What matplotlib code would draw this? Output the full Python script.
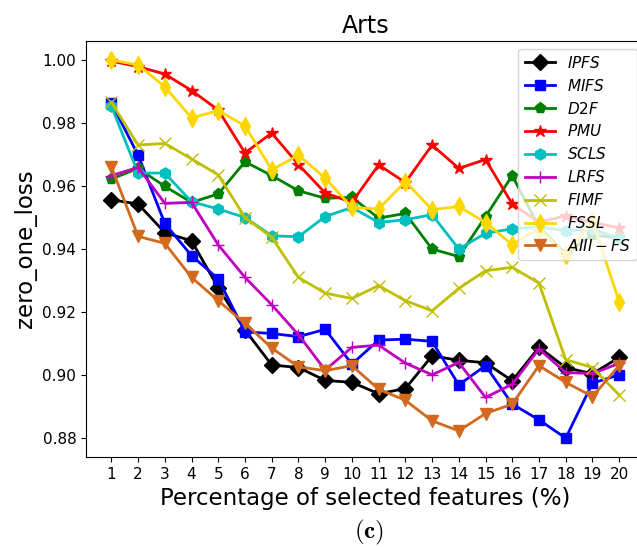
import matplotlib
matplotlib.use("Agg")
import matplotlib.pyplot as plt

# Percentage of selected features (x axis)
pct = list(range(1, 21))

# zero_one_loss per method on the Arts dataset
ipfs = [0.9556, 0.9543, 0.9452, 0.9426, 0.9277, 0.9143, 0.9032, 0.9024, 0.8983, 0.8977,
        0.8941, 0.8957, 0.9061, 0.9047, 0.9039, 0.8982, 0.9088, 0.9024, 0.9004, 0.9056]
mifs = [0.9863, 0.9698, 0.9481, 0.9379, 0.9305, 0.9137, 0.9132, 0.9122, 0.9145, 0.9035,
        0.9111, 0.9114, 0.9107, 0.8969, 0.9030, 0.8908, 0.8858, 0.8800, 0.8974, 0.9001]
d2f = [0.9622, 0.9656, 0.9599, 0.9548, 0.9575, 0.9677, 0.9633, 0.9585, 0.9561, 0.9564,
       0.9498, 0.9513, 0.9400, 0.9376, 0.9503, 0.9633, 0.9470, 0.9385, 0.9445, 0.9435]
pmu = [0.9996, 0.9979, 0.9955, 0.9903, 0.9841, 0.9705, 0.9768, 0.9668, 0.9578, 0.9548,
       0.9667, 0.9611, 0.9730, 0.9656, 0.9684, 0.9543, 0.9485, 0.9505, 0.9485, 0.9467]
scls = [0.9853, 0.9641, 0.9641, 0.9550, 0.9527, 0.9500, 0.9442, 0.9439, 0.9503, 0.9532,
        0.9484, 0.9493, 0.9509, 0.9400, 0.9450, 0.9464, 0.9470, 0.9458, 0.9462, 0.9435]
lrfs = [0.9633, 0.9659, 0.9545, 0.9548, 0.9413, 0.9310, 0.9223, 0.9128, 0.9016, 0.9088,
        0.9095, 0.9038, 0.9001, 0.9040, 0.8929, 0.8971, 0.9083, 0.9008, 0.9005, 0.9037]
fimf = [0.9865, 0.9730, 0.9735, 0.9686, 0.9635, 0.9500, 0.9437, 0.9310, 0.9260, 0.9243,
        0.9284, 0.9236, 0.9204, 0.9275, 0.9331, 0.9342, 0.9292, 0.9049, 0.9024, 0.8937]
fssl = [1.0000, 0.9984, 0.9915, 0.9816, 0.9839, 0.9791, 0.9651, 0.9698, 0.9625, 0.9532,
        0.9527, 0.9614, 0.9525, 0.9535, 0.9484, 0.9414, 0.9465, 0.9380, 0.9490, 0.9233]
aiii = [0.9661, 0.9440, 0.9418, 0.9310, 0.9236, 0.9164, 0.9086, 0.9026, 0.9014, 0.9030,
        0.8955, 0.8920, 0.8855, 0.8823, 0.8878, 0.8908, 0.9030, 0.8977, 0.8932, 0.9030]

series = [
    (ipfs, r"$IPFS$", "k", "D", 8),
    (mifs, r"$MIFS$", "b", "s", 7.5),
    (d2f, r"$D2F$", "g", "p", 8),
    (pmu, r"$PMU$", "r", "*", 9),
    (scls, r"$SCLS$", "c", "h", 8),
    (lrfs, r"$LRFS$", "m", "+", 9),
    (fimf, r"$FIMF$", "y", "x", 8),
    (fssl, r"$FSSL$", "gold", "d", 9),
    (aiii, r"$AIII-FS$", "chocolate", "v", 8),
]

fig = plt.figure(figsize=(6.37, 5.47), dpi=100)
ax = fig.add_axes([0.135, 0.1645, 0.8768, 0.7605])

for vals, name, col, mk, ms in series:
    ax.plot(pct, vals, color=col, marker=mk, markersize=ms, linewidth=2, label=name)

ax.set_xlim(0.05, 20.95)
ax.set_ylim(0.874, 1.006)
ax.set_xticks(pct)
ax.tick_params(axis="both", labelsize=11)
ax.set_title("Arts", fontsize=17)
ax.set_xlabel("Percentage of selected features (%)", fontsize=16.5)
ax.set_ylabel("zero_one_loss", fontsize=16.5)
ax.legend(loc="upper right", fontsize=11, labelspacing=0.45)

fig.text(369 / 637, 14.5 / 547, r"$\mathbf{(c)}$", fontsize=18,
         ha="center", va="center", math_fontfamily="cm")

fig.savefig("out.png", dpi=100)
